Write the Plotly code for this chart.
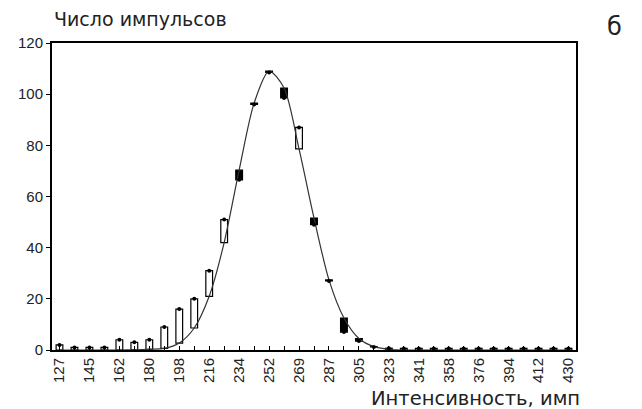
import plotly.graph_objects as go

categories = ["127", "135", "145", "153", "162", "171", "180", "189", "198", "207",
              "216", "225", "234", "242", "252", "260", "269", "278", "287", "296",
              "305", "314", "323", "332", "341", "349", "358", "367", "376", "385",
              "394", "403", "412", "421", "430"]
observed = [2, 1, 1, 1, 4, 3, 4, 9, 16, 20,
            31, 51, 66.5, 96, 108.5, 98.5, 87, 49, 27, 7,
            3.5, 1.2, 0.7, 0.6, 0.6, 0.6, 0.6, 0.6, 0.6, 0.6,
            0.6, 0.6, 0.6, 0.6, 0.6]
fitted = [0, 0, 0, 0, 0, 0.1, 0.3, 0.6, 2.7, 8.6,
          21, 42, 70.3, 96.5, 109, 102.4, 78.6, 51.6, 27.4, 12.5,
          4.5, 1.3, 0.3, 0, 0, 0, 0, 0, 0, 0,
          0, 0, 0, 0, 0]
tick_labels = [c if i % 2 == 0 else "" for i, c in enumerate(categories)]

low = [min(o, f) for o, f in zip(observed, fitted)]
span = [abs(o - f) for o, f in zip(observed, fitted)]
fills = ["white" if o >= f else "black" for o, f in zip(observed, fitted)]

font = "DejaVu Sans, Liberation Sans, sans-serif"
tickfont = "Liberation Sans, Arial, sans-serif"
ink = "#222222"

fig = go.Figure()
fig.add_trace(go.Scatter(
    x=categories, y=fitted, mode="lines",
    line=dict(color="#333333", width=1.2, shape="spline", smoothing=0.8),
    hoverinfo="skip", showlegend=False))
fig.add_trace(go.Bar(
    x=categories, y=span, base=low, width=0.45,
    marker=dict(color=fills, line=dict(color="black", width=1.2)),
    showlegend=False))
fig.add_trace(go.Scatter(
    x=categories, y=observed, mode="markers",
    marker=dict(color="black", size=4, symbol="circle"),
    showlegend=False))

fig.update_layout(
    width=642, height=409,
    margin=dict(l=44, r=74, t=35, b=67, autoexpand=False),
    paper_bgcolor="white", plot_bgcolor="white",
    font=dict(family=tickfont, color=ink, size=15),
    bargap=0.5,
    annotations=[
        dict(text="Число импульсов", x=0, xref="paper", y=1.078, yref="paper",
             xanchor="left", yanchor="middle", showarrow=False,
             font=dict(size=19, family=font, color=ink)),
        dict(text="б", x=1.0744, xref="paper", y=1.052, yref="paper",
             xanchor="center", yanchor="middle",
             showarrow=False, font=dict(size=24, family=font, color=ink)),
        dict(text="Интенсивность, имп", x=1.0115, xref="paper", y=-0.158,
             yref="paper", xanchor="right", yanchor="middle", showarrow=False,
             font=dict(size=19.5, family=font, color=ink)),
    ],
)

fig.update_xaxes(
    type="category", range=[-0.5, len(categories) - 0.5], automargin=False,
    tickmode="array", tickvals=categories, ticktext=tick_labels,
    tickangle=-90, ticks="inside", ticklen=4, tickcolor="black",
    showline=True, linecolor="black", linewidth=2, mirror=True,
    showgrid=False, tickfont=dict(size=15))
fig.update_yaxes(
    range=[0, 120], tickvals=[0, 20, 40, 60, 80, 100, 120], automargin=False,
    ticks="outside", ticklen=4, tickcolor="black",
    showline=True, linecolor="black", linewidth=2, mirror=True,
    showgrid=False, zeroline=False, tickfont=dict(size=15))

fig.write_html("out.html")
